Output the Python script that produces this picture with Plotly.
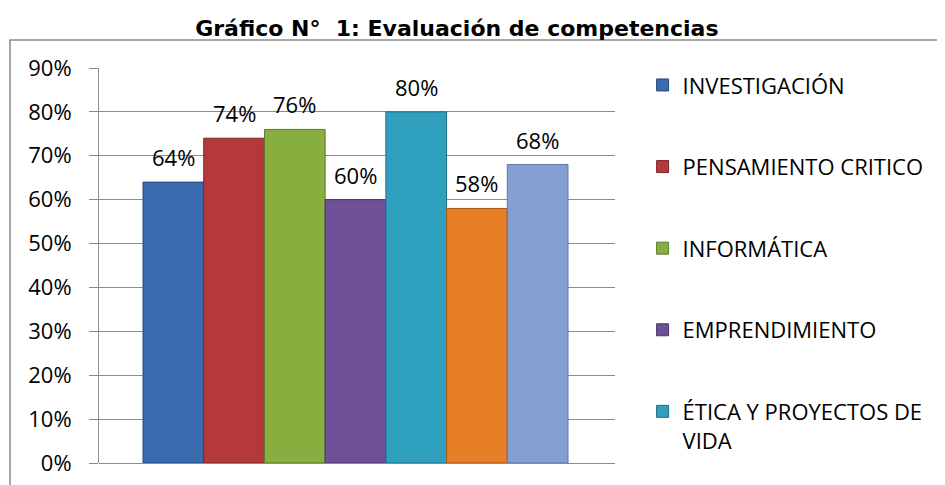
import plotly.graph_objects as go

# ---- data ----
title_text = "Gráfico N°\u00a0 1: Evaluación de competencias"
series_names = [
    "INVESTIGACIÓN",
    "PENSAMIENTO CRITICO",
    "INFORMÁTICA",
    "EMPRENDIMIENTO",
    "ÉTICA Y PROYECTOS DE<br>VIDA",
    "COMPETENCIA 6",
    "COMPETENCIA 7",
]
series_values = [0.64, 0.74, 0.76, 0.60, 0.80, 0.58, 0.68]
legend_visible = [True, True, True, True, True, False, False]
tick_values = [0, 0.1, 0.2, 0.3, 0.4, 0.5, 0.6, 0.7, 0.8, 0.9]

# ---- styles ----
colors = ["#3A6BAE", "#B5393A", "#88AE40", "#6E5096", "#2FA0BE", "#E77F27", "#849FD2"]
edge_colors = ["#24497C", "#7E2424", "#5E7B2A", "#4A3468", "#1F6F85", "#A6581A", "#5C76A3"]
FONT = "Open Sans"
GRID = "#8C8C8C"

fig = go.Figure()
for i, (name, val) in enumerate(zip(series_names, series_values)):
    fig.add_trace(go.Bar(
        x=[i], y=[val], width=1, name=name,
        legendgroup=f"g{i}", showlegend=legend_visible[i],
        marker=dict(color=colors[i], line=dict(color=edge_colors[i], width=1)),
    ))
    fig.add_annotation(
        x=i, y=val, text=f"{round(val*100)}%", showarrow=False,
        yanchor="middle", yshift=25,
        font=dict(family=FONT, size=22, color="#000000"),
    )

fig.update_layout(
    template="none",
    width=945, height=485,
    margin=dict(l=91, r=338, t=60, b=30, autoexpand=False),
    paper_bgcolor="white", plot_bgcolor="white",
    barmode="overlay",
    title=dict(text=title_text, x=0.475, xref="container", xanchor="center",
               y=0.958, yref="container", yanchor="middle",
               font=dict(family="DejaVu Sans", size=22, color="#000000", weight="bold")),
    showlegend=True,
    legend=dict(
        x=1.0535, xanchor="left", y=1.0097, yanchor="top",
        font=dict(family=FONT, size=22, color="#000000"),
        traceorder="grouped", tracegroupgap=50, valign="top",
        bgcolor="rgba(0,0,0,0)", maxheight=470,
    ),
    xaxis=dict(range=[-1.225, 7.274], showticklabels=False, showgrid=False,
               zeroline=False, showline=False, ticks="", automargin=False),
    yaxis=dict(range=[0, 0.9], tickvals=tick_values, tickformat=".0%",
               showgrid=True, gridcolor=GRID, gridwidth=1,
               zeroline=True, zerolinecolor=GRID, zerolinewidth=1,
               showline=True, linecolor=GRID, linewidth=1,
               ticks="outside", ticklen=9, tickcolor=GRID, tickwidth=1,
               ticklabelstandoff=13, automargin=False,
               tickfont=dict(family=FONT, size=22, color="#000000")),
    shapes=[dict(type="rect", xref="paper", yref="paper",
                 x0=(10 - 99) / 516, x1=1.7, y0=-0.2, y1=(463 - 40) / 395,
                 line=dict(color="#8C8C8C", width=1.5), layer="below")],
)

fig.write_html("out.html")
